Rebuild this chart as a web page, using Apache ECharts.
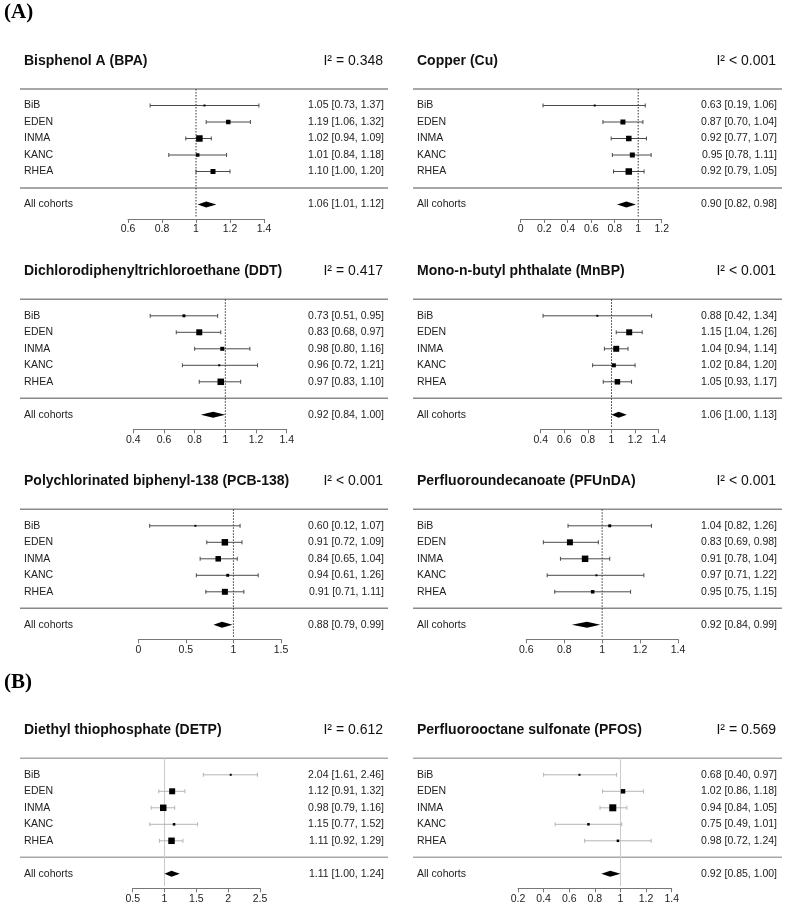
<!DOCTYPE html>
<html><head><meta charset="utf-8">
<script src="https://cdn.jsdelivr.net/npm/echarts@6/dist/echarts.min.js"></script>
<style>html,body{margin:0;padding:0;background:#fff}#c{width:786px;height:906px}</style>
</head><body><div id="c"></div>
<script>
// ---------------- data ----------------
const cohorts = ['BiB', 'EDEN', 'INMA', 'KANC', 'RHEA'];
const pooledName = 'All cohorts';
const sectionLabels = ['(A)', '(B)'];
const exposures = ['Bisphenol A (BPA)', 'Copper (Cu)', 'Dichlorodiphenyltrichloroethane (DDT)',
  'Mono-n-butyl phthalate (MnBP)', 'Polychlorinated biphenyl-138 (PCB-138)', 'Perfluoroundecanoate (PFUnDA)',
  'Diethyl thiophosphate (DETP)', 'Perfluorooctane sulfonate (PFOS)'];
const heterogeneity = ['= 0.348', '< 0.001', '= 0.417', '< 0.001', '< 0.001', '< 0.001', '= 0.612', '= 0.569'];

const bpaEst = [1.05, 1.19, 1.02, 1.01, 1.10], bpaLo = [0.73, 1.06, 0.94, 0.84, 1.00], bpaHi = [1.37, 1.32, 1.09, 1.18, 1.20];
const bpaWeight = [8, 41, 86, 25, 51], bpaPooled = [1.06, 1.01, 1.12];
const cuEst = [0.63, 0.87, 0.92, 0.95, 0.92], cuLo = [0.19, 0.70, 0.77, 0.78, 0.79], cuHi = [1.06, 1.04, 1.07, 1.11, 1.05];
const cuWeight = [8, 51, 62, 51, 86], cuPooled = [0.90, 0.82, 0.98];
const ddtEst = [0.73, 0.83, 0.98, 0.96, 0.97], ddtLo = [0.51, 0.68, 0.80, 0.72, 0.83], ddtHi = [0.95, 0.97, 1.16, 1.21, 1.10];
const ddtWeight = [18, 73, 33, 8, 86], ddtPooled = [0.92, 0.84, 1.00];
const mnbpEst = [0.88, 1.15, 1.04, 1.02, 1.05], mnbpLo = [0.42, 1.04, 0.94, 0.84, 0.93], mnbpHi = [1.34, 1.26, 1.14, 1.20, 1.17];
const mnbpWeight = [8, 73, 73, 33, 62], mnbpPooled = [1.06, 1.00, 1.13];
const pcbEst = [0.60, 0.91, 0.84, 0.94, 0.91], pcbLo = [0.12, 0.72, 0.65, 0.61, 0.71], pcbHi = [1.07, 1.09, 1.04, 1.26, 1.11];
const pcbWeight = [8, 86, 62, 18, 73], pcbPooled = [0.88, 0.79, 0.99];
const pfundaEst = [1.04, 0.83, 0.91, 0.97, 0.95], pfundaLo = [0.82, 0.69, 0.78, 0.71, 0.75], pfundaHi = [1.26, 0.98, 1.04, 1.22, 1.15];
const pfundaWeight = [18, 73, 86, 8, 25], pfundaPooled = [0.92, 0.84, 0.99];
const detpEst = [2.04, 1.12, 0.98, 1.15, 1.11], detpLo = [1.61, 0.91, 0.79, 0.77, 0.92], detpHi = [2.46, 1.32, 1.16, 1.52, 1.29];
const detpWeight = [8, 73, 86, 13, 86], detpPooled = [1.11, 1.00, 1.24];
const pfosEst = [0.68, 1.02, 0.94, 0.75, 0.98], pfosLo = [0.40, 0.86, 0.84, 0.49, 0.72], pfosHi = [0.97, 1.18, 1.05, 1.01, 1.24];
const pfosWeight = [8, 41, 100, 13, 13], pfosPooled = [0.92, 0.85, 1.00];

const axisMin = [0.6, 0, 0.4, 0.4, 0, 0.6, 0.5, 0.2];
const axisMax = [1.4, 1.2, 1.4, 1.4, 1.5, 1.4, 2.5, 1.4];
const axisStep = [0.2, 0.2, 0.2, 0.2, 0.5, 0.2, 0.5, 0.2];
const nullValue = 1;

const panelData = [
  [bpaEst, bpaLo, bpaHi, bpaWeight, bpaPooled],
  [cuEst, cuLo, cuHi, cuWeight, cuPooled],
  [ddtEst, ddtLo, ddtHi, ddtWeight, ddtPooled],
  [mnbpEst, mnbpLo, mnbpHi, mnbpWeight, mnbpPooled],
  [pcbEst, pcbLo, pcbHi, pcbWeight, pcbPooled],
  [pfundaEst, pfundaLo, pfundaHi, pfundaWeight, pfundaPooled],
  [detpEst, detpLo, detpHi, detpWeight, detpPooled],
  [pfosEst, pfosLo, pfosHi, pfosWeight, pfosPooled]
];

// ---------------- layout ----------------
const COLS = [{ l: 20, r: 388, text: 24, val: 384, i2: 383 }, { l: 413, r: 782, text: 417, val: 777, i2: 776 }];
const TOPS = [89, 299.3, 509.3, 758.3];
const GX = [[128, 264], [520.7, 661.7], [133.3, 286.7], [540.7, 658.7], [138.3, 281], [526.3, 678], [132.7, 260], [518, 671.7]];
const ROW = 16.5, GRID_H = 130, Y_MAX = GRID_H / ROW;
const FONT = 'Liberation Sans, Arial, sans-serif';
const SECTION_Y = [13, 683];

const fmt = v => v.toFixed(2);
const ciText = (e, l, h) => fmt(e) + ' [' + fmt(l) + ', ' + fmt(h) + ']';

const grids = [], xAxes = [], yAxes = [], series = [], graphics = [];

panelData.forEach((pd, i) => {
  const col = COLS[i % 2];
  const top = TOPS[Math.floor(i / 2)];
  const isB = i >= 6;
  const ciColor = isB ? '#b4b4b4' : '#4a4a4a';
  const sepColor = isB ? '#a8a8a8' : '#8a8a8a';
  grids.push({ left: GX[i][0], width: GX[i][1] - GX[i][0], top: top, height: GRID_H });
  xAxes.push({
    gridIndex: i, type: 'value', min: axisMin[i], max: axisMax[i], interval: axisStep[i],
    axisLine: { show: true, onZero: false, lineStyle: { color: '#777', width: 1 } },
    axisTick: { show: true, length: 4, lineStyle: { color: '#777' } },
    axisLabel: { fontSize: 10.5, color: '#222', margin: 5, fontFamily: FONT },
    splitLine: { show: false }
  });
  yAxes.push({ gridIndex: i, type: 'value', min: 0, max: Y_MAX, inverse: true, show: false });

  // separators
  series.push({
    type: 'custom', xAxisIndex: i, yAxisIndex: i, silent: true, clip: false,
    data: [[axisMin[i], 0], [axisMin[i], 6]],
    renderItem: (params, api) => {
      const y = api.coord([api.value(0), api.value(1)])[1];
      return { type: 'line', shape: { x1: col.l, y1: y, x2: col.r, y2: y }, style: { stroke: sepColor, lineWidth: 1.5 } };
    }
  });
  // reference line at null value
  series.push({
    type: 'custom', xAxisIndex: i, yAxisIndex: i, silent: true, clip: false,
    data: [[nullValue, 0]],
    renderItem: (params, api) => {
      const p0 = api.coord([api.value(0), 0]);
      const p1 = api.coord([api.value(0), 7.75]);
      return { type: 'line', shape: { x1: p0[0], y1: p0[1], x2: p1[0], y2: p1[1] },
        style: { stroke: isB ? '#cacaca' : '#333', lineWidth: 1, lineDash: isB ? null : [1.5, 1.5] } };
    }
  });
  // studies
  const [est, lo, hi, w, pooled] = pd;
  const rows = cohorts.map((c, k) => [est[k], k + 1, lo[k], hi[k], w[k], k]);
  series.push({
    type: 'custom', xAxisIndex: i, yAxisIndex: i, silent: true, clip: false,
    data: rows,
    renderItem: (params, api) => {
      const yv = api.value(1);
      const p = api.coord([api.value(0), yv]);
      const pl = api.coord([api.value(2), yv]);
      const ph = api.coord([api.value(3), yv]);
      const s = 0.7 * Math.sqrt(api.value(4));
      const k = api.value(5);
      return { type: 'group', children: [
        { type: 'line', shape: { x1: pl[0], y1: p[1], x2: ph[0], y2: p[1] }, style: { stroke: ciColor, lineWidth: 1 } },
        { type: 'line', shape: { x1: pl[0], y1: p[1] - 2, x2: pl[0], y2: p[1] + 2 }, style: { stroke: ciColor, lineWidth: 1 } },
        { type: 'line', shape: { x1: ph[0], y1: p[1] - 2, x2: ph[0], y2: p[1] + 2 }, style: { stroke: ciColor, lineWidth: 1 } },
        { type: 'rect', shape: { x: p[0] - s / 2, y: p[1] - s / 2, width: s, height: s }, style: { fill: '#000' } },
        { type: 'text', style: { text: cohorts[k], x: col.text, y: p[1], align: 'left', verticalAlign: 'middle', fill: '#222', font: '10.5px ' + FONT } },
        { type: 'text', style: { text: ciText(est[k], lo[k], hi[k]), x: col.val, y: p[1], align: 'right', verticalAlign: 'middle', fill: '#222', font: '10.5px ' + FONT } }
      ] };
    }
  });
  // pooled
  series.push({
    type: 'custom', xAxisIndex: i, yAxisIndex: i, silent: true, clip: false,
    data: [[pooled[0], 7, pooled[1], pooled[2]]],
    renderItem: (params, api) => {
      const yv = api.value(1);
      const p = api.coord([api.value(0), yv]);
      const pl = api.coord([api.value(2), yv]);
      const ph = api.coord([api.value(3), yv]);
      return { type: 'group', children: [
        { type: 'polygon', shape: { points: [[pl[0], p[1]], [p[0], p[1] - 3], [ph[0], p[1]], [p[0], p[1] + 3]] }, style: { fill: '#000' } },
        { type: 'text', style: { text: pooledName, x: col.text, y: p[1], align: 'left', verticalAlign: 'middle', fill: '#222', font: '10.5px ' + FONT } },
        { type: 'text', style: { text: ciText(pooled[0], pooled[1], pooled[2]), x: col.val, y: p[1], align: 'right', verticalAlign: 'middle', fill: '#222', font: '10.5px ' + FONT } }
      ] };
    }
  });

  graphics.push({ type: 'text', x: col.text, y: top - 28, silent: true,
    style: { text: exposures[i], fill: '#111', font: 'bold 14px ' + FONT, align: 'left', verticalAlign: 'middle' } });
  graphics.push({ type: 'text', x: col.i2, y: top - 28, silent: true,
    style: { text: 'I\u00B2 ' + heterogeneity[i], fill: '#111', font: '14px ' + FONT, align: 'right', verticalAlign: 'middle' } });
});

sectionLabels.forEach((t, j) => {
  graphics.push({ type: 'text', x: 4, y: SECTION_Y[j], silent: true,
    style: { text: t, fill: '#000', font: 'bold 21px Liberation Serif, Times New Roman, serif', align: 'left', verticalAlign: 'middle' } });
});

const chart = echarts.init(document.getElementById('c'), null, { renderer: 'canvas' });
chart.setOption({
  animation: false,
  backgroundColor: '#fff',
  grid: grids, xAxis: xAxes, yAxis: yAxes, series: series, graphic: graphics
});
</script></body></html>
